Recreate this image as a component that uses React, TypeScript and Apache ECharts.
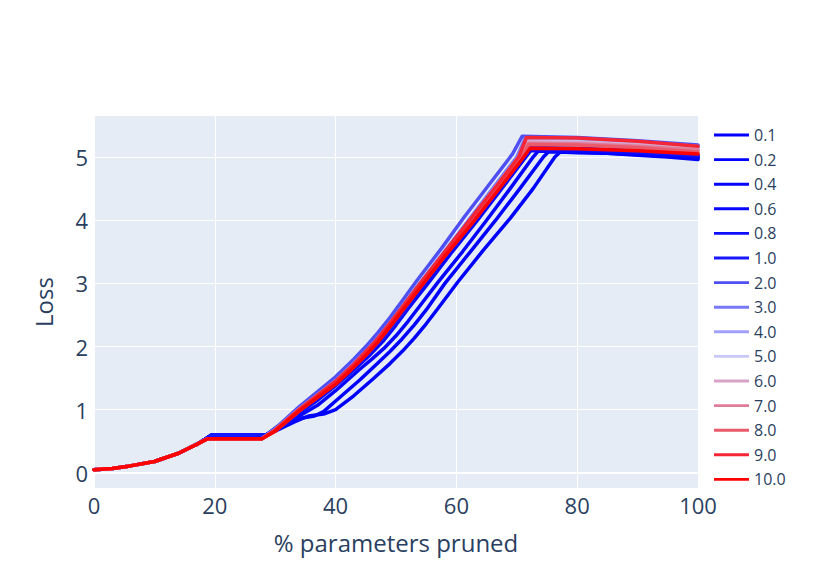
import React, { useEffect, useRef } from "react";
import * as echarts from "echarts";

// ---- data ----
const seriesNames = ["0.1", "0.2", "0.4", "0.6", "0.8", "1.0", "2.0", "3.0", "4.0", "5.0", "6.0", "7.0", "8.0", "9.0", "10.0"];
const seriesColors = ["#0000ff", "#0000ff", "#0404ff", "#0808ff", "#0e0eff", "#1818ff", "#4f4ff6", "#7878f8", "#a0a0fb", "#c8c8f8", "#d8a2c8", "#e07c9a", "#ea5a6a", "#f42535", "#ff0000"];

const riseStart: number[][] = [[0, 0.05], [3, 0.07], [6, 0.11], [10, 0.18], [14, 0.31], [17, 0.45]];
const blueFlat: number[][] = [[19.5, 0.6], [28.5, 0.6]];
const redFlat: number[][] = [[18.8, 0.54], [27.8, 0.54]];

const tail01: number[][] = [[30, 0.66], [33, 0.8], [35.5, 0.9], [38, 0.93], [40, 1.0], [43, 1.22], [46, 1.47], [49, 1.73], [51, 1.92], [53, 2.13], [55, 2.36], [57, 2.61], [60.3, 3.03], [64.5, 3.53], [68.9, 4.03], [72.7, 4.5], [76.3, 5.0], [77.2, 5.08], [80, 5.07], [85, 5.06], [90, 5.03], [95, 5.0], [100, 4.96]];
const tail02: number[][] = [[31, 0.72], [34, 0.86], [36.5, 0.9], [38, 0.97], [41, 1.22], [44, 1.47], [47, 1.74], [49, 1.92], [51, 2.12], [53, 2.34], [55, 2.58], [58.1, 3.0], [62.3, 3.5], [66.5, 4.0], [70.5, 4.5], [74.4, 5.0], [75.2, 5.08], [80, 5.08], [90, 5.04], [100, 4.98]];
const tail04: number[][] = [[31, 0.73], [34, 0.9], [37, 1.07], [40, 1.3], [44, 1.64], [46, 1.8], [48, 1.97], [50, 2.17], [52, 2.4], [54, 2.65], [56.8, 3.0], [61, 3.5], [65, 4.0], [68.9, 4.5], [72.7, 5.0], [73.5, 5.09], [80, 5.09], [90, 5.06], [100, 5.0]];
const tail06: number[][] = [[31, 0.74], [34, 0.95], [37, 1.15], [40, 1.38], [43, 1.63], [45.5, 1.85], [48, 2.1], [50, 2.34], [52, 2.6], [55.3, 3.0], [59.3, 3.5], [63.5, 4.0], [67.5, 4.5], [71.5, 5.0], [72.3, 5.1], [80, 5.1], [90, 5.07], [100, 5.0]];
const tail08: number[][] = [[31, 0.76], [34, 0.98], [40, 1.4], [43.5, 1.7], [45.5, 1.88], [47.5, 2.08], [49.5, 2.3], [51.5, 2.55], [54.5, 2.98], [58.6, 3.5], [62.8, 4.0], [66.9, 4.5], [71, 5.0], [72, 5.12], [80, 5.12], [90, 5.08], [100, 5.02]];
const tail10: number[][] = [[31, 0.78], [34, 1.0], [40, 1.42], [43.5, 1.72], [45.5, 1.9], [47.5, 2.1], [49.5, 2.33], [51.5, 2.58], [54.2, 2.98], [58.4, 3.5], [62.6, 4.0], [66.7, 4.5], [70.8, 5.0], [71.8, 5.15], [80, 5.14], [90, 5.1], [100, 5.04]];
const tail2: number[][] = [[30, 0.7], [34, 1.05], [40, 1.52], [43, 1.8], [45, 2.0], [47, 2.22], [49, 2.46], [51, 2.72], [53.5, 3.05], [57.5, 3.55], [61.3, 4.05], [65.3, 4.55], [69.3, 5.05], [70.9, 5.33], [80, 5.31], [90, 5.26], [100, 5.19]];
const tail3: number[][] = [[30, 0.69], [34, 1.02], [40, 1.46], [43, 1.74], [45, 1.93], [47, 2.14], [49, 2.38], [51, 2.63], [54, 3.01], [58, 3.5], [62, 4.0], [66, 4.5], [70, 5.0], [71.4, 5.3], [80, 5.29], [90, 5.24], [100, 5.17]];
const tail4: number[][] = [[30, 0.68], [34, 1.01], [40, 1.45], [43, 1.72], [45, 1.91], [47, 2.12], [49, 2.36], [51, 2.61], [54, 2.99], [58, 3.48], [62.1, 3.98], [66.1, 4.48], [70.2, 4.99], [71.6, 5.28], [80, 5.27], [90, 5.22], [100, 5.15]];
const tail5: number[][] = [[30, 0.68], [34, 1.0], [40, 1.44], [43, 1.71], [45, 1.9], [47, 2.11], [49, 2.35], [51, 2.6], [54, 2.97], [58, 3.46], [62.2, 3.97], [66.3, 4.47], [70.4, 4.98], [71.7, 5.25], [80, 5.24], [90, 5.2], [100, 5.13]];
const tail6: number[][] = [[30, 0.67], [34, 1.0], [40, 1.43], [43, 1.7], [45, 1.89], [47, 2.1], [49, 2.34], [51, 2.59], [54, 2.96], [58, 3.45], [62.3, 3.96], [66.4, 4.46], [70.5, 4.98], [71.8, 5.24], [80, 5.23], [90, 5.19], [100, 5.12]];
const tail7: number[][] = [[30, 0.67], [34, 0.99], [40, 1.42], [43, 1.69], [45, 1.88], [47, 2.09], [49, 2.33], [51, 2.58], [54, 2.95], [58, 3.44], [62.4, 3.96], [66.5, 4.46], [70.6, 4.98], [71.9, 5.22], [80, 5.21], [90, 5.17], [100, 5.11]];
const tail8: number[][] = [[30, 0.66], [34, 0.98], [40, 1.41], [43, 1.68], [45, 1.87], [47, 2.08], [49, 2.32], [51, 2.57], [54, 2.94], [58, 3.43], [62.5, 3.95], [66.6, 4.45], [70.7, 4.97], [72, 5.2], [80, 5.19], [90, 5.15], [100, 5.08]];
const tail9: number[][] = [[30, 0.68], [34, 1.01], [40, 1.45], [43, 1.72], [45, 1.92], [47, 2.13], [49, 2.37], [51, 2.62], [54, 3.0], [58, 3.49], [62.1, 3.99], [66.2, 4.49], [70.3, 5.0], [71.6, 5.31], [80, 5.3], [90, 5.25], [100, 5.17]];
const tail10x: number[][] = [[30, 0.66], [34, 0.98], [40, 1.4], [43, 1.67], [45, 1.86], [47, 2.07], [49, 2.31], [51, 2.56], [54, 2.93], [58, 3.42], [62.6, 3.95], [66.7, 4.45], [70.9, 4.97], [72.2, 5.14], [80, 5.13], [90, 5.1], [100, 5.05]];

const blueTails = [tail01, tail02, tail04, tail06, tail08, tail10];
const redTails = [tail2, tail3, tail4, tail5, tail6, tail7, tail8, tail9, tail10x];

const yTicks = [0, 1, 2, 3, 4, 5];

export default function App() {
  const ref = useRef<HTMLDivElement>(null);
  useEffect(() => {
    if (!ref.current) return;
    const chart = echarts.init(ref.current, undefined, { renderer: "svg" });
    const seriesData = [
      ...blueTails.map((t) => [...riseStart, ...blueFlat, ...t]),
      ...redTails.map((t) => [...riseStart, ...redFlat, ...t]),
    ];
    const font = "'Open Sans', verdana, arial, sans-serif";
    const txt = "#2a3f5f";
    const series: any[] = seriesNames.map((name, i) => ({
      name,
      type: "line",
      data: seriesData[i],
      symbol: "none",
      showSymbol: false,
      lineStyle: { color: seriesColors[i], width: 3.5, join: "round", cap: "round" },
      itemStyle: { color: seriesColors[i] },
      z: 2 + i,
      silent: true,
    }));
    series[0].markLine = {
      silent: true,
      symbol: "none",
      label: { show: false },
      lineStyle: { color: "#ffffff", width: 2, type: "solid" },
      data: [{ yAxis: 0 }],
      z: 1,
    };
    chart.setOption({
      animation: false,
      backgroundColor: "#ffffff",
      textStyle: { fontFamily: font },
      grid: { left: 86, right: 108, top: 108, bottom: 86, show: true, backgroundColor: "#E5ECF6", borderWidth: 0 },
      legend: {
        orient: "vertical",
        left: 701,
        top: 114,
        itemWidth: 35,
        itemHeight: 14,
        itemGap: 8.6,
        data: seriesNames.map((n, i) => ({ name: n, icon: "path://M0,6 L36,6 L36,9 L0,9 Z", itemStyle: { color: seriesColors[i] } })),
        textStyle: { color: txt, fontSize: 16, fontFamily: font },
        selectedMode: false,
      },
      xAxis: {
        type: "value",
        min: 0,
        max: 100,
        interval: 20,
        name: "% parameters pruned",
        nameLocation: "middle",
        nameGap: 42,
        nameTextStyle: { color: txt, fontSize: 24, fontFamily: font },
        axisLine: { show: false },
        axisTick: { show: false },
        axisLabel: { color: txt, fontSize: 22, margin: 6, fontFamily: font },
        splitLine: { show: true, lineStyle: { color: "#ffffff", width: 1 } },
      },
      yAxis: {
        type: "value",
        min: -0.24,
        max: 5.65,
        name: "Loss",
        nameLocation: "middle",
        nameGap: 39,
        nameTextStyle: { color: txt, fontSize: 24, fontFamily: font },
        axisLine: { show: false },
        axisTick: { show: false, customValues: yTicks },
        axisLabel: { color: txt, fontSize: 22, margin: 6, fontFamily: font, customValues: yTicks },
        splitLine: { show: true, lineStyle: { color: "#ffffff", width: 1 } },
      },
      series,
    });
    return () => chart.dispose();
  }, []);
  return <div ref={ref} style={{ width: 798, height: 566 }} />;
}
